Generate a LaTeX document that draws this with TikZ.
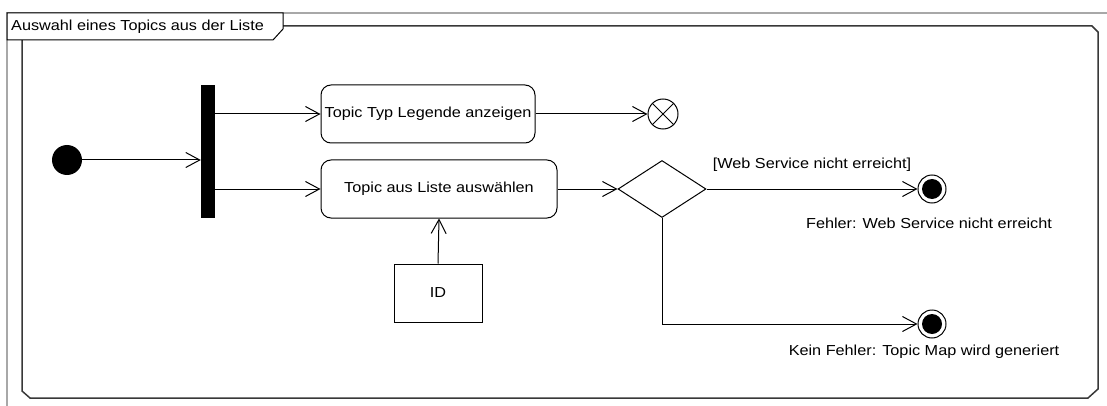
\documentclass[tikz,border=0pt]{standalone}
\usepackage{fontspec}
\setmainfont{Liberation Sans}[FakeStretch=1.12]
\usetikzlibrary{arrows.meta,shapes.geometric}

\definecolor{framegray}{HTML}{A8A8A8}
\definecolor{framedark}{HTML}{383838}

\tikzset{
  every node/.style={font=\fontsize{14.5}{17}\selectfont, inner sep=0pt},
  arr/.style={line width=1pt, -{Straight Barb[length=14pt,width=15pt,line width=1pt]}},
  action/.style={draw, line width=1pt, rounded corners=10pt, minimum height=58pt},
  startnode/.style={circle, fill=black, minimum size=30pt},
  forkbar/.style={fill=black, minimum width=14pt, minimum height=133pt},
  decision/.style={diamond, draw, line width=1pt, minimum width=88pt, minimum height=57pt},
  flowfinal/.style={circle, draw, line width=1pt, minimum size=30pt,
    path picture={
      \draw[line width=1pt] (path picture bounding box.north west) -- (path picture bounding box.south east)
                            (path picture bounding box.north east) -- (path picture bounding box.south west);}},
  finalnode/.style={circle, draw, line width=1pt, minimum size=28pt,
    path picture={\fill[black] (path picture bounding box.center) circle (10pt);}},
  objbox/.style={draw, line width=1pt, minimum width=88pt, minimum height=58pt},
}

\begin{document}
\begin{tikzpicture}[x=1pt,y=-1pt]
\useasboundingbox (0,0) rectangle (1107,406);

% outer frame and activity border
\draw[framegray, line width=1.5pt] (7,406) -- (7,13) -- (1107,13);
\draw[framedark, line width=1.5pt]
  (283,26) -- (1092,26) -- (1098,32) -- (1098,389) -- (1088,398)
  -- (30,398) -- (22,391) -- (22,40);
\draw[black, line width=1pt, fill=white]
  (7,13) -- (283,13) -- (283,29) -- (273,40) -- (7,40) -- cycle;
\node[anchor=west] (title) at (11,27) {Auswahl eines Topics aus der Liste};

% nodes
\node[startnode] (start) at (67,160) {};
\node[forkbar] (fork) at (208,151.5) {};
\node[action, minimum width=214pt] (act1) at (428,114) {Topic Typ Legende anzeigen};
\node[action, minimum width=236pt] (act2) at (439,189) {Topic aus Liste auswählen};
\node[flowfinal] (flowend) at (663,114) {};
\node[decision] (dec) at (662,189) {};
\node[finalnode] (fin1) at (932,189) {};
\node[finalnode] (fin2) at (932,324) {};
\node[objbox] (id) at (438,293) {ID};

% labels of the final nodes
\node (fin1lbl) at (929,223) {Fehler: Web Service nicht erreicht};
\node (fin2lbl) at (924,352) {Kein Fehler: Topic Map wird generiert};

% control flow
\draw[arr] (start) -- (start -| fork.west);
\draw[arr] (fork.east |- act1) -- (act1.west);
\draw[arr] (fork.east |- act2) -- (act2.west);
\draw[arr] (act1.east) -- (flowend.west);
\draw[arr] (act2.east) -- (dec.west);
\draw[arr] (dec.east) -- node[midway, anchor=south, yshift=17pt] (guard) {[Web Service nicht erreicht]} (fin1.west);
\draw[arr] (dec.south) |- (fin2.west);
\draw[arr] (id.north) -- (act2.south);
\end{tikzpicture}
\end{document}
